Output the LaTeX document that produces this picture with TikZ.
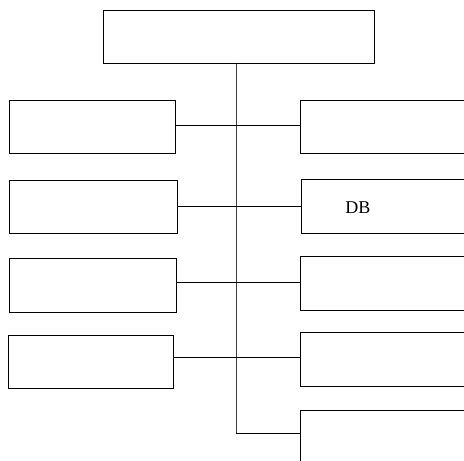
\documentclass[tikz,border=0pt]{standalone}
\usepackage{fontspec}
\setmainfont{Liberation Serif}
\begin{document}
\begin{tikzpicture}[x=1pt,y=-1pt,
  box/.style={draw=black,line width=0.7pt,rectangle,inner sep=0pt,anchor=north west},
  link/.style={draw=black,line width=0.7pt},
  trunkline/.style={draw=black!75,line width=1pt}]
\useasboundingbox (0,0) rectangle (464,461);
\clip (0,0) rectangle (464,461);
% top box
\node[box,minimum width=271pt,minimum height=53pt] (top) at (103,10) {};
% left boxes
\node[box,minimum width=166pt,minimum height=53pt] (l1) at (9,100) {};
\node[box,minimum width=168pt,minimum height=53pt] (l2) at (9,180) {};
\node[box,minimum width=167pt,minimum height=54pt] (l3) at (9,258) {};
\node[box,minimum width=165pt,minimum height=53pt] (l4) at (8,335) {};
% right boxes (extend past the right edge)
\node[box,minimum width=180pt,minimum height=53pt] (r1) at (300,100) {};
\node[box,minimum width=180pt,minimum height=54pt] (r2) at (301,179) {};
\node[box,minimum width=180pt,minimum height=54pt] (r3) at (300,256) {};
\node[box,minimum width=180pt,minimum height=54pt] (r4) at (300,332) {};
\node[box,minimum width=180pt,minimum height=70pt] (r5) at (300,410) {};
\node[font=\fontsize{18}{21}\selectfont] (db) at (358,207.5) {DB};
% branch levels
\coordinate (y1) at (0,125);
\coordinate (y2) at (0,206);
\coordinate (y3) at (0,282);
\coordinate (y4) at (0,357);
\coordinate (tb) at (236,433);
% trunk
\draw[trunkline] (top.south -| tb) -- (tb);
% branches
\draw[link] (l1.east |- y1) -- (r1.west |- y1);
\draw[link] (l2.east |- y2) -- (r2.west |- y2);
\draw[link] (l3.east |- y3) -- (r3.west |- y3);
\draw[link] (l4.east |- y4) -- (r4.west |- y4);
\draw[link] (tb) -- (r5.west |- tb);
\end{tikzpicture}
\end{document}
